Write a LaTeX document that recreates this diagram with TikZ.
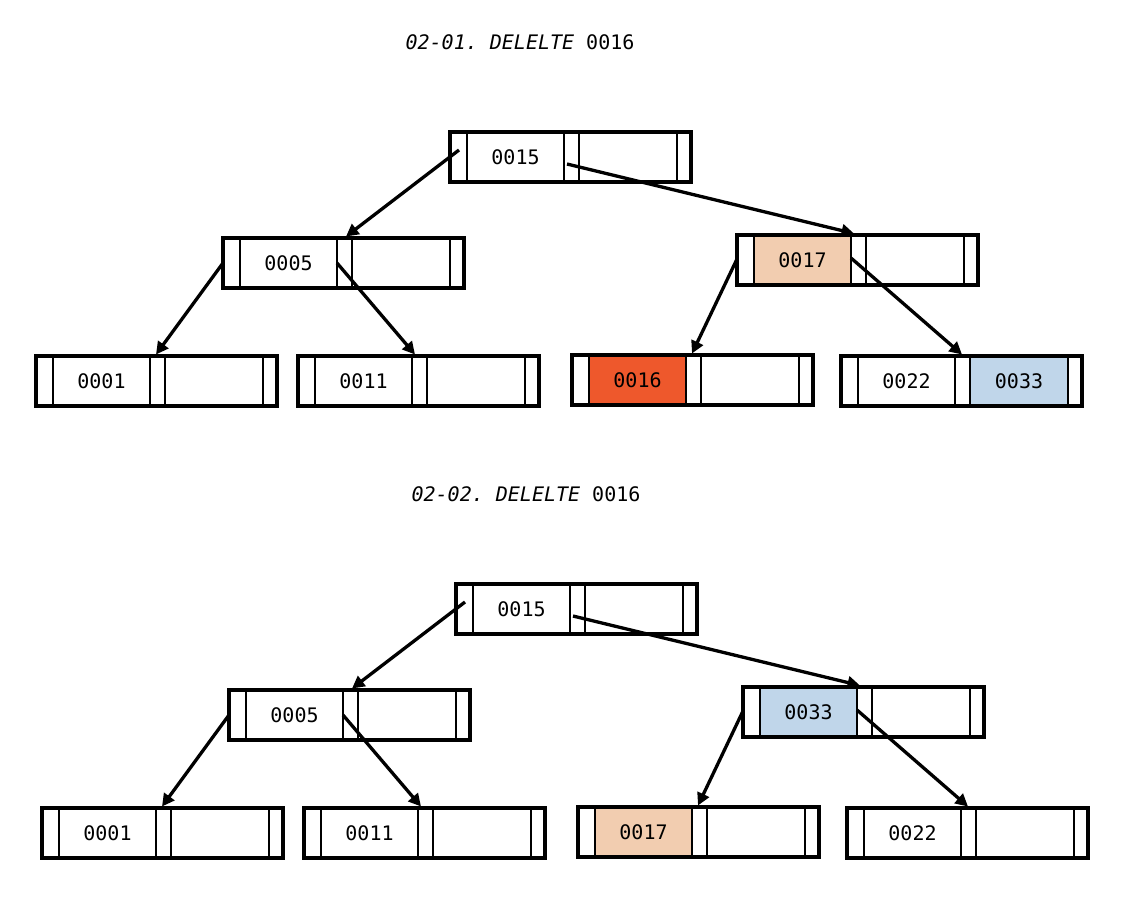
\documentclass[tikz,border=0pt]{standalone}
\usepackage{fontspec}
\setmonofont{DejaVu Sans Mono}
\usetikzlibrary{arrows.meta,calc}
\definecolor{delred}{RGB}{238,88,44}
\definecolor{peach}{RGB}{242,205,176}
\definecolor{lblue}{RGB}{192,214,234}
\tikzset{
  box/.style={draw=black, line width=3.6pt, minimum width=241pt, minimum height=50pt, inner sep=0pt},
  divider/.style={draw=black, line width=1.6pt},
  keytext/.style={font=\ttfamily\fontsize{20}{22}\selectfont, inner sep=0pt},
  titletext/.style={font=\ttfamily\fontsize{20}{22}\selectfont, inner sep=0pt},
  arr/.style={draw=black, line width=3.3pt, -{Triangle[length=12.5pt,width=12.5pt]}}
}
% name, x, y, key1, key2, fill1, fill2
\newcommand{\btnode}[7]{%
  \path[fill=#6] (#2+17,#3) rectangle (#2+114,#3+50);
  \path[fill=#7] (#2+129,#3) rectangle (#2+227,#3+50);
  \draw[divider] (#2+17,#3) -- (#2+17,#3+50);
  \draw[divider] (#2+114,#3) -- (#2+114,#3+50);
  \draw[divider] (#2+129,#3) -- (#2+129,#3+50);
  \draw[divider] (#2+227,#3) -- (#2+227,#3+50);
  \node[box] (#1) at (#2+120.5,#3+25) {};
  \if\relax\detokenize{#4}\relax\else\node[keytext] (#1-k1) at (#2+65.5,#3+25) {#4};\fi
  \if\relax\detokenize{#5}\relax\else\node[keytext] (#1-k2) at (#2+178,#3+25) {#5};\fi
  \coordinate (#1-l) at (#2,#3+25);
  \coordinate (#1-ls) at (#2+9,#3+19);
  \coordinate (#1-m) at (#2+114,#3+25);
  \coordinate (#1-ms) at (#2+121,#3+25);
  \coordinate (#1-mt) at (#2+121,#3-1.5);
}
\newcommand{\btree}[8]{% prefix, title, key root-right-child, fill child1, leaf key, fill leaf, leaf4 key2, fill leaf4 key2
  \node[titletext] (#1t) at (520,42) {#2};
  \btnode{#1r}{450}{132}{0015}{}{white}{white}
  \btnode{#1a}{223}{238}{0005}{}{white}{white}
  \btnode{#1b}{737}{235}{#3}{}{#4}{white}
  \btnode{#1c}{36}{356}{0001}{}{white}{white}
  \btnode{#1d}{298}{356}{0011}{}{white}{white}
  \btnode{#1e}{572}{355}{#5}{}{#6}{white}
  \btnode{#1f}{841}{356}{0022}{#7}{white}{#8}
  \draw[arr] ($(#1r-ls)+(0,-1)$) -- ($(#1a-mt)+(2,0)$);
  \draw[arr] ($(#1r-ms)+(-4,7)$) -- ($(#1b-mt)+(-4,0)$);
  \draw[arr] (#1a-l) -- ($(#1c-mt)+(-1,0)$);
  \draw[arr] (#1a-m) -- ($(#1d-mt)+(-4,0)$);
  \draw[arr] ($(#1b-l)+(0,-1)$) -- ($(#1e-mt)+(-1,0)$);
  \draw[arr] ($(#1b-m)+(0,-2)$) -- ($(#1f-mt)+(0,0)$);
}
\begin{document}
\begin{tikzpicture}[x=1pt,y=-1pt]
\useasboundingbox (0,0) rectangle (1148,898);
\fill[white] (0,0) rectangle (1148,898);
\btree{p}{\textit{02-01. DELELTE} 0016}{0017}{peach}{0016}{delred}{0033}{lblue}
\begin{scope}[shift={(6,452)}]
\btree{q}{\textit{02-02. DELELTE} 0016}{0033}{lblue}{0017}{peach}{}{white}
\end{scope}
\end{tikzpicture}
\end{document}
